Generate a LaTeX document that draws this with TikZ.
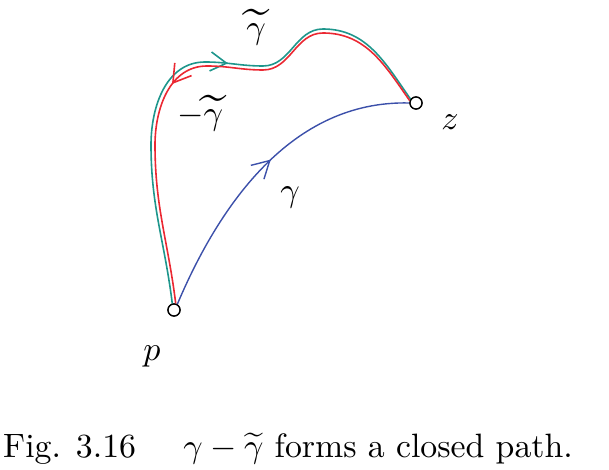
\documentclass[tikz,border=0pt]{standalone}
\usepackage{amsmath}
\usepackage{graphicx}
\usetikzlibrary{arrows.meta,decorations.markings}
\definecolor{tealc}{RGB}{30,150,140}
\definecolor{redc}{RGB}{235,40,50}
\definecolor{bluec}{RGB}{60,80,170}
\newcommand{\tgam}{\ooalign{$\gamma$\cr\hidewidth\raisebox{-0.27em}{\scalebox{1.45}[1.6]{$\widetilde{\hphantom{\gamma}}$}}\hidewidth\cr}}
\begin{document}
\begin{tikzpicture}[x=1pt,y=1pt,
  pt/.style={circle,draw=black,line width=1.3pt,minimum size=12pt,inner sep=0pt,fill=white},
  curve/.style={line width=1.6pt},
  lbl/.style={inner sep=0pt},
  captxt/.style={inner sep=0pt}]
\useasboundingbox (0,0) rectangle (609,470);
\node[pt] (p) at (174,160) {};
\node[pt] (z) at (416,367) {};
% teal path (gamma tilde)
\draw[curve,tealc,postaction={decorate},decoration={markings,mark=at position 0.565 with {\arrow{Straight Barb[length=16pt,width=19pt]}}}]
  (p.105) to[out=97,in=-90] (151,325) to[out=90,in=180] (205,408)
  to[out=0,in=180] (263,404) to[out=0,in=180] (323,441) to[out=0,in=125] (z.145);
% red path (-gamma tilde)
\draw[curve,redc,postaction={decorate},decoration={markings,mark=at position 0.44 with {\arrowreversed{Straight Barb[length=17pt,width=21pt]}}}]
  (p.75) to[out=97,in=-90] (155,325) to[out=90,in=180] (207,404)
  to[out=0,in=180] (263,400) to[out=0,in=180] (323,437) to[out=0,in=125] (z.160);
% blue path (gamma)
\draw[curve,bluec,line width=1.4pt,postaction={decorate},decoration={markings,mark=at position 0.53 with {\arrow{Straight Barb[length=17pt,width=19pt]}}}]
  (p.60) .. controls (218,262) and (290,370) .. (z.180);
\node[pt] at (p) {};
\node[pt] at (z) {};
\node[lbl,anchor=base] (gt) at (256,431) {\scalebox{3.4}{$\tgam$}};
\node[lbl,anchor=base west] (mgt) at (177,345) {\scalebox{3.4}{$-$\tgam}};
\node[lbl] (g) at (290,273) {\scalebox{3.4}{$\gamma$}};
\node[lbl] (zl) at (450,348) {\scalebox{3.4}{$z$}};
\node[lbl] (pl) at (152,114) {\scalebox{3.4}{$p$}};
\node[captxt,anchor=base west] (capt) at (3,12) {\scalebox{3.38}{Fig. 3.16\hspace{1.4em}$\gamma-\widetilde{\gamma}$ forms a closed path.}};
\end{tikzpicture}
\end{document}
